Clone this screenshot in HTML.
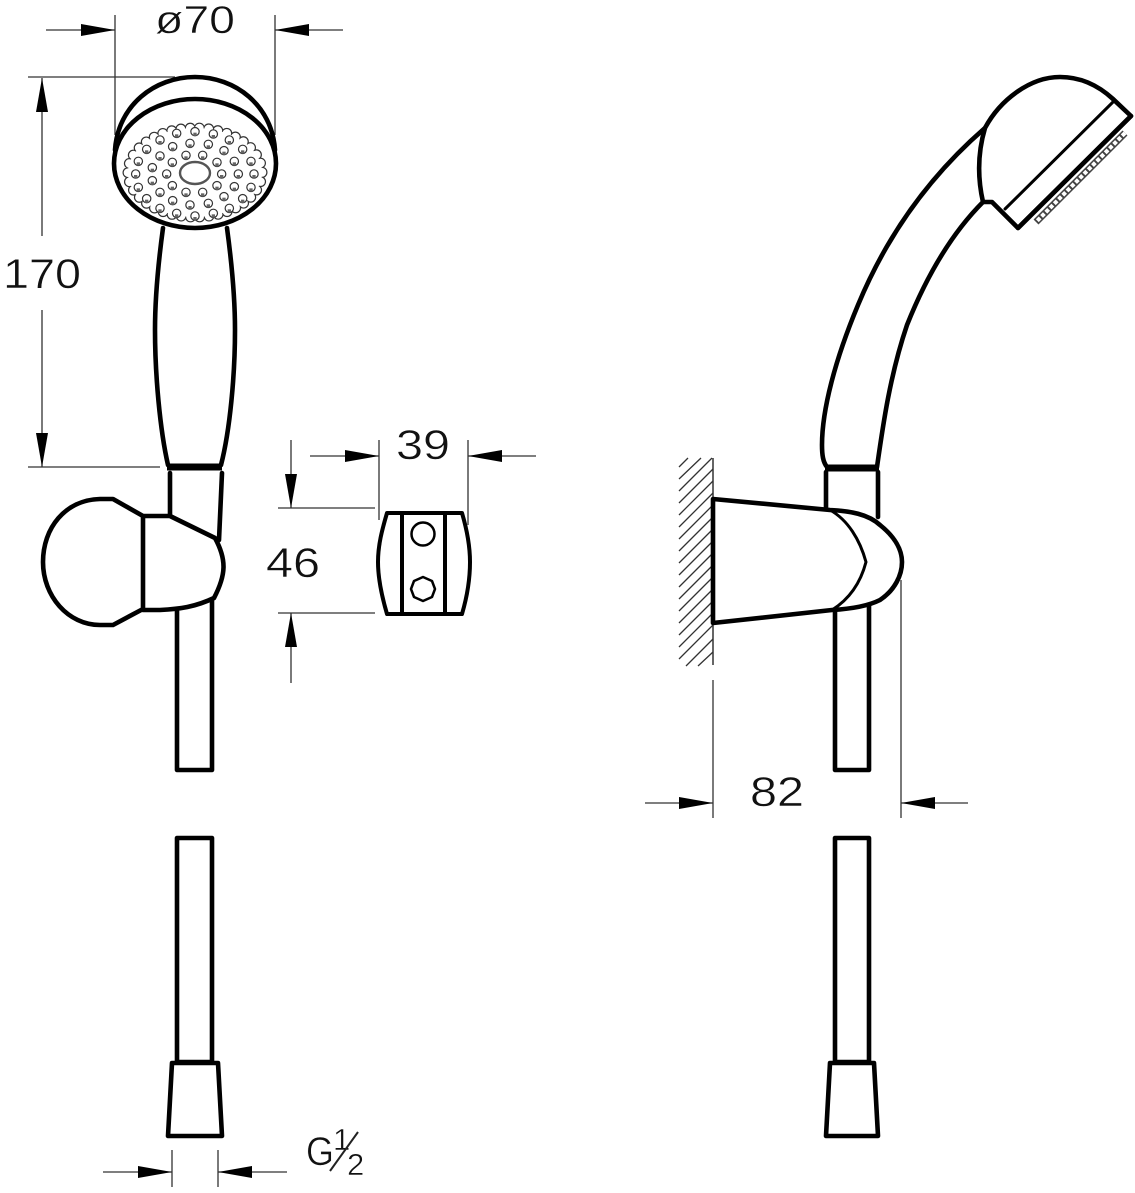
<!DOCTYPE html>
<html><head><meta charset="utf-8"><style>html,body{margin:0;padding:0;background:#fff}svg{display:block}text{font-family:"Liberation Sans",sans-serif;fill:#111;stroke:#fff;stroke-width:.5}</style></head><body>
<svg xmlns="http://www.w3.org/2000/svg" width="1135" height="1193" viewBox="0 0 1135 1193">
<defs>
<g id="h"><circle r="12.5" fill="#fff" stroke="#333" stroke-width="3.6"/><path d="M-5 3h10v9.5h-10z" fill="#666"/></g>
<path id="ar" d="M0 0L-34-6V6Z" fill="#000"/>
</defs>
<!-- thin dims -->
<g fill="none" stroke="#333" stroke-width="1.3">
<path d="M115 15V135M275 15V135M46 30H115M275 30H343"/>
<path d="M28 77H175M42 78V236M42 310V467M28 467H160"/>
<path d="M379 440V520M468 440V525M310 456H379M468 456H536M291 440V508M278 508H375M278 613H375M291 613V683"/>
<path d="M713 680V818M901 580V818M645 803H713M901 803H968"/>
<path d="M172 1150V1187M218 1150V1187M103 1172H172M218 1172H287"/>
<path d="M713 458V665" stroke-width="1.5"/>
<path d="M679 467L688 458M679 479L701 458M679 491L712 458M679 503L713 469M679 515L713 481M679 527L713 493M679 539L713 505M679 551L713 517M679 563L713 529M679 575L713 541M679 587L713 553M679 599L713 565M679 611L713 577M679 623L713 589M679 635L713 601M679 647L713 613M679 659L713 625M686 666L713 639M698 666L713 652" stroke-width="1.3"/>
</g>
<!-- arrows -->
<use href="#ar" transform="translate(115 30)"/><use href="#ar" transform="translate(275 30) rotate(180)"/>
<use href="#ar" transform="translate(42 78) rotate(-90)"/><use href="#ar" transform="translate(42 467) rotate(90)"/>
<use href="#ar" transform="translate(379 456)"/><use href="#ar" transform="translate(468 456) rotate(180)"/>
<use href="#ar" transform="translate(291 508) rotate(90)"/><use href="#ar" transform="translate(291 613) rotate(-90)"/>
<use href="#ar" transform="translate(713 803)"/><use href="#ar" transform="translate(901 803) rotate(180)"/>
<use href="#ar" transform="translate(172 1172)"/><use href="#ar" transform="translate(218 1172) rotate(180)"/>
<!-- left view head -->
<g fill="none" stroke="#000" stroke-width="4.6" stroke-linejoin="round" stroke-linecap="round">
<path d="M115 150C118 105 155 77 195 77C235 77 272 105 275 150" fill="#fff"/>
<ellipse cx="195" cy="163.5" rx="81" ry="64.5" fill="#fff"/>
<path d="M163 228C158 265 155 300 155 330C155 375 160 430 168 465M227 228C232 265 235 300 235 330C235 375 230 430 221 465"/>
<path d="M167 467H222" stroke-width="7" stroke-linecap="butt"/>
<path d="M170 473V516M222 473L219 540M177 605V770H212V592M177 838V1062H212V838ZM172 1063H218L222 1136H168Z"/>
<path d="M143 516L113 499H100C65 500 43 528 43 562C43 596 68 625 100 625H113L143 609V516H170L215 538C227 560 226 575 214 598C195 607 180 609 160 610H143" fill="#fff"/>
<!-- clip box -->
<path d="M387 513H462C467 530 470 545 470 562C470 580 467 597 462 614H387C382 597 378 580 378 562C378 545 382 530 387 513ZM402 513V614M445 513V614" stroke-width="4"/>
<circle cx="423" cy="534" r="11.5" stroke-width="2.5"/><path d="M423 577L432 581L435 589L432 597L423 601L414 597L411 589L414 581Z" stroke-width="2.5"/>
<!-- right view -->
<path d="M826 472L826 511M878 472V517M835 610V770H869V604M835 838V1062H869V838ZM830 1063H874L878 1136H826Z"/>
<path d="M985 128C925 180 885 240 858 305C835 360 822 410 822 445C822 455 823 462 827 467M983 202C950 235 925 280 907 325C890 375 883 425 877 467"/>
<path d="M825 468H879" stroke-width="7" stroke-linecap="butt"/>
<path d="M713 499L830 510C850 511 868 514 880 525C895 537 902 550 902 562C902 575 895 590 880 600C868 606 850 609 832 610L713 623Z" fill="#fff"/>
<path d="M830 510C848 520 860 540 866 562C860 585 848 600 832 610" stroke-width="3"/>
<path d="M985 128C1000 100 1030 77 1060 77C1082 77 1100 87 1113 99L1131 116L1018 228L992 202L983 202C978 180 977 155 985 128Z" fill="#fff"/>
<path d="M1113 102L1005 209" stroke-width="3"/>
</g>
<path d="M1125 133L1036 222" fill="none" stroke="#444" stroke-width="7"/>
<path d="M1125 133L1036 222" fill="none" stroke="#fff" stroke-width="4" stroke-dasharray="4 2"/>
<path d="M1131 116L1018 228" fill="none" stroke="#000" stroke-width="4.6" stroke-linecap="round"/>
<!-- scalloped face -->
<ellipse cx="195" cy="172.5" rx="67" ry="44.5" fill="none" stroke="#333" stroke-width="11" stroke-linecap="round" stroke-dasharray="0 1" pathLength="38"/>
<ellipse cx="195" cy="172.5" rx="67" ry="44.5" fill="none" stroke="#fff" stroke-width="8.6" stroke-linecap="round" stroke-dasharray="0 1" pathLength="38"/>
<ellipse cx="195" cy="172.5" rx="67" ry="44.5" fill="#fff"/>
<ellipse cx="195" cy="173" rx="15" ry="11" fill="#fff" stroke="#555" stroke-width="2.4"/>
<g transform="scale(.33333)">
<use href="#h" x="585" y="395"/><use href="#h" x="530" y="400"/><use href="#h" x="640" y="402"/><use href="#h" x="480" y="420"/><use href="#h" x="688" y="420"/><use href="#h" x="570" y="430"/><use href="#h" x="518" y="440"/><use href="#h" x="625" y="433"/><use href="#h" x="440" y="448"/><use href="#h" x="728" y="448"/><use href="#h" x="672" y="452"/><use href="#h" x="558" y="466"/><use href="#h" x="608" y="466"/><use href="#h" x="480" y="468"/><use href="#h" x="415" y="484"/><use href="#h" x="517" y="487"/><use href="#h" x="651" y="487"/><use href="#h" x="703" y="484"/><use href="#h" x="753" y="484"/><use href="#h" x="457" y="503"/><use href="#h" x="500" y="522"/><use href="#h" x="407" y="522"/><use href="#h" x="665" y="522"/><use href="#h" x="715" y="522"/><use href="#h" x="762" y="522"/><use href="#h" x="457" y="542"/><use href="#h" x="517" y="557"/><use href="#h" x="415" y="562"/><use href="#h" x="651" y="557"/><use href="#h" x="703" y="560"/><use href="#h" x="753" y="562"/><use href="#h" x="480" y="577"/><use href="#h" x="558" y="577"/><use href="#h" x="608" y="577"/><use href="#h" x="440" y="596"/><use href="#h" x="672" y="590"/><use href="#h" x="728" y="596"/><use href="#h" x="518" y="602"/><use href="#h" x="625" y="610"/><use href="#h" x="570" y="615"/><use href="#h" x="480" y="625"/><use href="#h" x="688" y="625"/><use href="#h" x="530" y="640"/><use href="#h" x="640" y="640"/><use href="#h" x="585" y="648"/>
</g>
<!-- labels -->
<text x="155" y="33" font-size="39" textLength="80" lengthAdjust="spacingAndGlyphs">ø70</text>
<text x="3" y="288" font-size="42" textLength="78" lengthAdjust="spacingAndGlyphs">170</text>
<text x="396" y="459" font-size="42" textLength="54" lengthAdjust="spacingAndGlyphs">39</text>
<text x="266" y="577" font-size="42" textLength="54" lengthAdjust="spacingAndGlyphs">46</text>
<text x="750" y="806" font-size="42" textLength="54" lengthAdjust="spacingAndGlyphs">82</text>
<text x="306" y="1165" font-size="40" textLength="28" lengthAdjust="spacingAndGlyphs">G</text>
<text x="333" y="1150" font-size="31">1</text>
<text x="347" y="1175" font-size="31">2</text>
<path d="M330 1171L358 1132" stroke="#222" stroke-width="2"/>
</svg>
</body></html>
